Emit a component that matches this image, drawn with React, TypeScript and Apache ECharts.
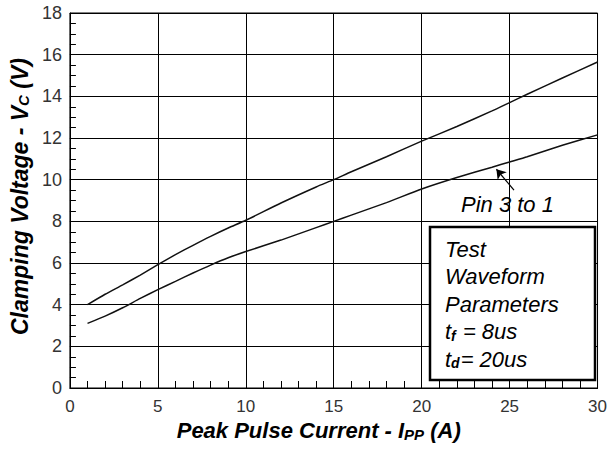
import React, { useEffect, useRef } from "react";
import * as echarts from "echarts";

const currentA = [1, 2, 3, 4, 5, 6, 7, 8, 9, 10, 12, 14, 15, 16, 18, 20, 22, 24, 25, 26, 28, 30];
const upperV = [4.0, 4.5, 4.95, 5.42, 5.92, 6.4, 6.85, 7.28, 7.68, 8.05, 8.88, 9.65, 10.0, 10.38, 11.1, 11.85, 12.55, 13.3, 13.7, 14.1, 14.88, 15.65];
const lowerV = [3.1, 3.45, 3.85, 4.3, 4.72, 5.12, 5.52, 5.9, 6.25, 6.55, 7.1, 7.7, 8.0, 8.3, 8.9, 9.55, 10.1, 10.6, 10.85, 11.1, 11.65, 12.15];
const xTicks = { min: 0, max: 30, interval: 5 };
const yTicks = { min: 0, max: 18, interval: 2 };
const arrowFrom = [25.25, 9.5];
const arrowTo = [24.25, 10.5];
const boxLines = ["Test", "Waveform", "Parameters", "{a|t}{s|f}{a| = 8us}", "{a|t}{s|d}{a|= 20us}"];

const FONT = "'Liberation Sans', Arial, sans-serif";

export default function App() {
  const ref = useRef<HTMLDivElement>(null);
  useEffect(() => {
    if (!ref.current) return;
    const chart = echarts.init(ref.current, undefined, { renderer: "svg" });
    const pair = (xs: number[], ys: number[]) => xs.map((x, i) => [x, ys[i]]);
    const axisCommon = {
      axisLine: { show: true, lineStyle: { color: "#000", width: 1 } },
      splitLine: { show: true, lineStyle: { color: "#000", width: 1 } },
      minorSplitLine: { show: false },
    };
    const subRich = {
      sub: {
        fontSize: 15,
        fontWeight: "bold",
        fontStyle: "italic",
        fontFamily: FONT,
        color: "#000",
        verticalAlign: "bottom",
        padding: [8, 0, 0, 0],
      },
    };
    const lineTop = 234;
    const lineStep = 27.5;
    chart.setOption({
      animation: false,
      backgroundColor: "#fff",
      grid: { left: 68, top: 13, right: 9, bottom: 62, show: true, borderColor: "#000", borderWidth: 1, containLabel: false },
      xAxis: {
        type: "value",
        min: xTicks.min,
        max: xTicks.max,
        interval: xTicks.interval,
        ...axisCommon,
        axisTick: { show: true, inside: true, length: 7, lineStyle: { color: "#000", width: 1 } },
        minorTick: { show: true, splitNumber: 5, length: 7, lineStyle: { color: "#000", width: 1 } },
        axisLabel: { fontSize: 17, color: "#333", fontFamily: FONT, margin: 10 },
        name: "Peak Pulse Current - I{sub|PP} (A)",
        nameLocation: "middle",
        nameGap: 30,
        nameTextStyle: {
          fontSize: 22,
          fontWeight: "bold",
          fontStyle: "italic",
          fontFamily: FONT,
          color: "#000",
          padding: [0, 30, 0, 0],
          rich: subRich,
        },
      },
      yAxis: {
        type: "value",
        min: yTicks.min,
        max: yTicks.max,
        interval: yTicks.interval,
        ...axisCommon,
        axisTick: { show: true, inside: true, length: 6, lineStyle: { color: "#000", width: 1 } },
        minorTick: { show: true, splitNumber: 4, length: 6, lineStyle: { color: "#000", width: 1 } },
        axisLabel: { fontSize: 18, color: "#333", fontFamily: FONT, margin: 8 },
        name: "Clamping Voltage - V{sub|C} (V)",
        nameLocation: "middle",
        nameGap: 36,
        nameTextStyle: {
          fontSize: 23,
          fontWeight: "bold",
          fontStyle: "italic",
          fontFamily: FONT,
          color: "#000",
          padding: [0, 0, 0, 8],
          rich: subRich,
        },
      },
      series: [
        {
          type: "line",
          data: pair(currentA, upperV),
          showSymbol: false,
          smooth: 0.2,
          lineStyle: { color: "#111", width: 1.5 },
          silent: true,
        },
        {
          type: "line",
          data: pair(currentA, lowerV),
          showSymbol: false,
          smooth: 0.2,
          lineStyle: { color: "#111", width: 1.5 },
          silent: true,
          markLine: {
            silent: true,
            symbol: ["none", "arrow"],
            symbolSize: 9,
            label: { show: false },
            lineStyle: { color: "#000", width: 1.2, type: "solid" },
            data: [[{ coord: arrowFrom }, { coord: arrowTo }]],
          },
        },
      ],
      graphic: [
        {
          type: "text",
          left: 461,
          top: 193,
          style: { text: "Pin 3 to 1", fontSize: 22, fontStyle: "italic", fontFamily: FONT, fill: "#000" },
          z: 10,
        },
        {
          type: "rect",
          shape: { x: 430, y: 227, width: 165, height: 153 },
          style: { fill: "#fff", stroke: "#000", lineWidth: 2.5 },
          z: 10,
        },
        ...boxLines.map((t, i) => ({
          type: "text",
          x: 445,
          y: lineTop + i * lineStep,
          z: 11,
          style: {
            text: t.startsWith("{") ? t : `{a|${t}}`,
            fill: "#000",
            rich: {
              a: { fontSize: 22, fontStyle: "italic", fontFamily: FONT, color: "#000", lineHeight: 26, verticalAlign: "bottom" },
              s: { fontSize: 14, fontStyle: "italic", fontWeight: "bold", fontFamily: FONT, color: "#000", lineHeight: 14, verticalAlign: "bottom", padding: [0, 1, 0, 0] },
            },
          },
        })),
      ],
    });
    return () => chart.dispose();
  }, []);
  return <div ref={ref} style={{ position: "absolute", left: 0, top: 0, width: 610, height: 450 }} />;
}
